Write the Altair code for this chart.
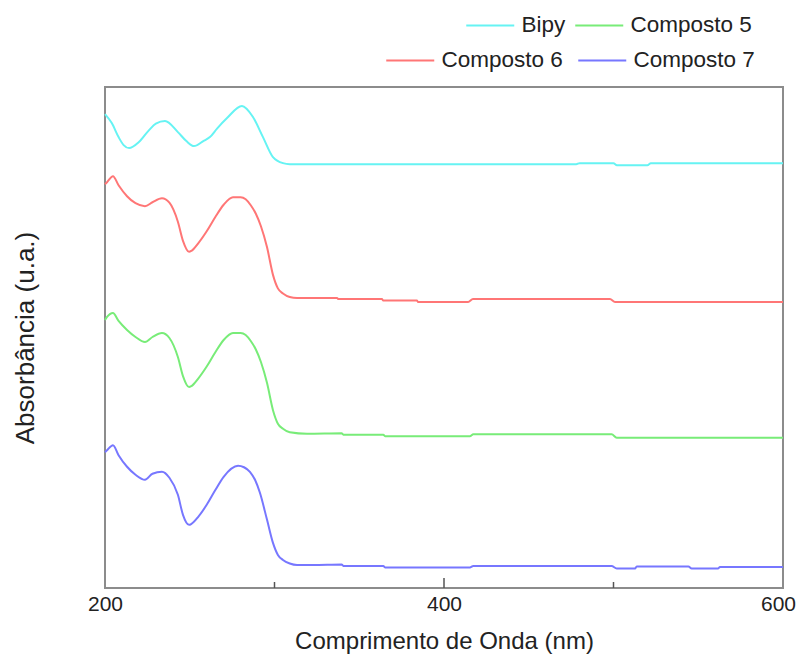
import altair as alt
import pandas as pd

# ---------------- data ----------------
series_names = ["Bipy", "Composto 5", "Composto 6", "Composto 7"]
series_colors = ["#66f3f3", "#78ec78", "#ff7676", "#7777ff"]

bipy_nm = [200, 204, 208, 211, 214.2, 220, 226, 230, 235.4, 243, 248, 252.5, 258, 261.9,
           266.1, 272, 280.8, 287.3, 293.2, 299.1, 305, 309, 326.8, 400, 478, 480, 500,
           502, 520, 522, 600]
bipy_abs = [9.46, 9.28, 9.00, 8.84, 8.78, 8.90, 9.14, 9.27, 9.32, 9.10, 8.92, 8.82, 8.92, 9.00,
            9.17, 9.38, 9.62, 9.40, 9.00, 8.60, 8.48, 8.46, 8.46, 8.46, 8.46, 8.48, 8.48,
            8.44, 8.44, 8.48, 8.48]

c6_nm = [200, 201.2, 204.7, 208, 213, 218, 223.6, 228, 233.6, 238, 243, 246, 249.6, 251,
         255, 260, 265, 270, 275.5, 280, 283, 286, 289, 292, 295.6, 299.1, 302, 305, 309,
         313.3, 336.9, 337.5, 363.4, 364, 384, 384.6, 414.2, 417.1, 497.9, 500.9, 600]
c6_abs = [8.06, 8.10, 8.22, 8.04, 7.82, 7.68, 7.62, 7.70, 7.78, 7.69, 7.31, 6.93, 6.71, 6.73,
          6.88, 7.12, 7.40, 7.65, 7.80, 7.80, 7.76, 7.64, 7.47, 7.22, 6.80, 6.25, 5.98, 5.88, 5.81,
          5.79, 5.79, 5.77, 5.77, 5.74, 5.74, 5.71, 5.71, 5.77, 5.77, 5.71, 5.71]

c5_nm = [200, 201.2, 204.7, 208, 213, 218, 223.6, 228, 233.6, 238, 243, 246, 249.6, 251,
         255, 260, 265, 270, 275.5, 280, 283, 286, 289, 292, 295.6, 299.1, 302, 305, 309,
         319.2, 339.6, 340.6, 364.2, 365.2, 415.3, 417.3, 498.9, 501.9, 600]
c5_abs = [5.35, 5.41, 5.49, 5.33, 5.15, 5.01, 4.91, 5.01, 5.09, 4.99, 4.61, 4.23, 4.01, 4.03,
          4.18, 4.42, 4.70, 4.95, 5.09, 5.09, 5.05, 4.93, 4.76, 4.51, 4.09, 3.55, 3.28, 3.18, 3.11,
          3.08, 3.09, 3.06, 3.06, 3.03, 3.03, 3.07, 3.07, 3.00, 3.00]

c7_nm = [200, 201.2, 204.7, 208, 213, 218, 223.6, 228, 233.6, 238, 243, 246, 249.6, 251,
         255, 260, 265, 270, 278.5, 282, 285.5, 288.5, 291.4, 295.6, 299.1, 302, 305, 309,
         313.3, 322.7, 339.6, 340.6, 364.2, 365.2, 415.3, 417.3, 498.9, 501.9, 512.7, 513.7,
         544.2, 546.1, 561.8, 562.8, 600]
c7_abs = [2.71, 2.75, 2.85, 2.65, 2.42, 2.26, 2.16, 2.28, 2.32, 2.20, 1.86, 1.46, 1.26, 1.28,
          1.42, 1.66, 1.95, 2.22, 2.44, 2.41, 2.32, 2.16, 1.90, 1.36, 0.90, 0.66, 0.56, 0.49,
          0.46, 0.46, 0.47, 0.44, 0.44, 0.41, 0.41, 0.44, 0.44, 0.39, 0.39, 0.43,
          0.43, 0.39, 0.39, 0.42, 0.42]

x_label_values = [200, 400, 600]
major_ticks = [400]
minor_ticks = [300, 500]

# ---------------- tables ----------------
rows = []
for name, xs, ys in [("Bipy", bipy_nm, bipy_abs), ("Composto 5", c5_nm, c5_abs),
                     ("Composto 6", c6_nm, c6_abs), ("Composto 7", c7_nm, c7_abs)]:
    for x, y in zip(xs, ys):
        rows.append({"serie": name, "nm": x, "abs": y})
df = pd.DataFrame(rows)

ticks_df = pd.DataFrame(
    [{"nm": v, "kind": "major"} for v in major_ticks]
    + [{"nm": v, "kind": "minor"} for v in minor_ticks]
)

W, H = 678, 501
FONT = "Liberation Sans"
TXT = "#222222"

x_scale = alt.Scale(domain=[200, 600], nice=False, zero=False)
y_scale = alt.Scale(domain=[0, 10], nice=False, zero=False)

x_axis = alt.Axis(values=x_label_values, ticks=False, domain=False, grid=False,
                  labelFontSize=21, labelPadding=5, labelColor=TXT, labelFont=FONT,
                  labelFlush=False,
                  labelOffset={"condition": {"test": "datum.value === 600", "value": -5},
                               "value": 0},
                  title="Comprimento de Onda (nm)", titleFontSize=24, titleFont=FONT,
                  titleFontWeight="normal", titleColor=TXT, titlePadding=15)
y_axis = alt.Axis(labels=False, ticks=False, domain=False, grid=False,
                  title="Absorbância (u.a.)", titleFontSize=26, titleFont=FONT,
                  titleFontWeight="normal", titleColor=TXT, titlePadding=67)


def lines(names, lx, ly, colpad):
    cols = [series_colors[series_names.index(n)] for n in names]
    return alt.Chart(df).transform_filter(
        alt.FieldOneOfPredicate(field="serie", oneOf=names)
    ).mark_line(interpolate="monotone", strokeWidth=2).encode(
        x=alt.X("nm:Q", scale=x_scale, axis=x_axis),
        y=alt.Y("abs:Q", scale=y_scale, axis=y_axis),
        color=alt.Color("serie:N", scale=alt.Scale(domain=names, range=cols),
                        legend=alt.Legend(orient="none", legendX=lx, legendY=ly,
                                          direction="horizontal", title=None,
                                          symbolType="M-1,0H7", symbolSize=144,
                                          symbolStrokeWidth=2, labelOffset=38,
                                          labelFontSize=22.5, labelFont=FONT,
                                          labelColor=TXT, columnPadding=colpad,
                                          padding=0)),
    )


layer_a = lines(["Bipy", "Composto 5"], 356, -73, 4)
layer_b = lines(["Composto 6", "Composto 7"], 276, -38, 10)

tick_major = alt.Chart(ticks_df).transform_filter(alt.datum.kind == "major").mark_rule(
    color="#555555", strokeWidth=1.5
).encode(
    x=alt.X("nm:Q", scale=x_scale, axis=x_axis),
    y=alt.value(H),
    y2=alt.value(H - 10),
)
tick_minor = alt.Chart(ticks_df).transform_filter(alt.datum.kind == "minor").mark_rule(
    color="#555555", strokeWidth=1.5
).encode(
    x=alt.X("nm:Q", scale=x_scale, axis=x_axis),
    y=alt.value(H),
    y2=alt.value(H - 6),
)

chart = alt.layer(layer_a, layer_b, tick_major, tick_minor).resolve_scale(
    color="independent"
).resolve_legend(color="independent").properties(
    width=W, height=H, autosize="none",
    padding={"left": 97, "top": 79, "right": 14, "bottom": 66},
    background="white",
).configure_view(stroke="#8c8c8c", strokeWidth=2)

chart.save("out.html", embed_options={"renderer": "svg", "actions": False})
